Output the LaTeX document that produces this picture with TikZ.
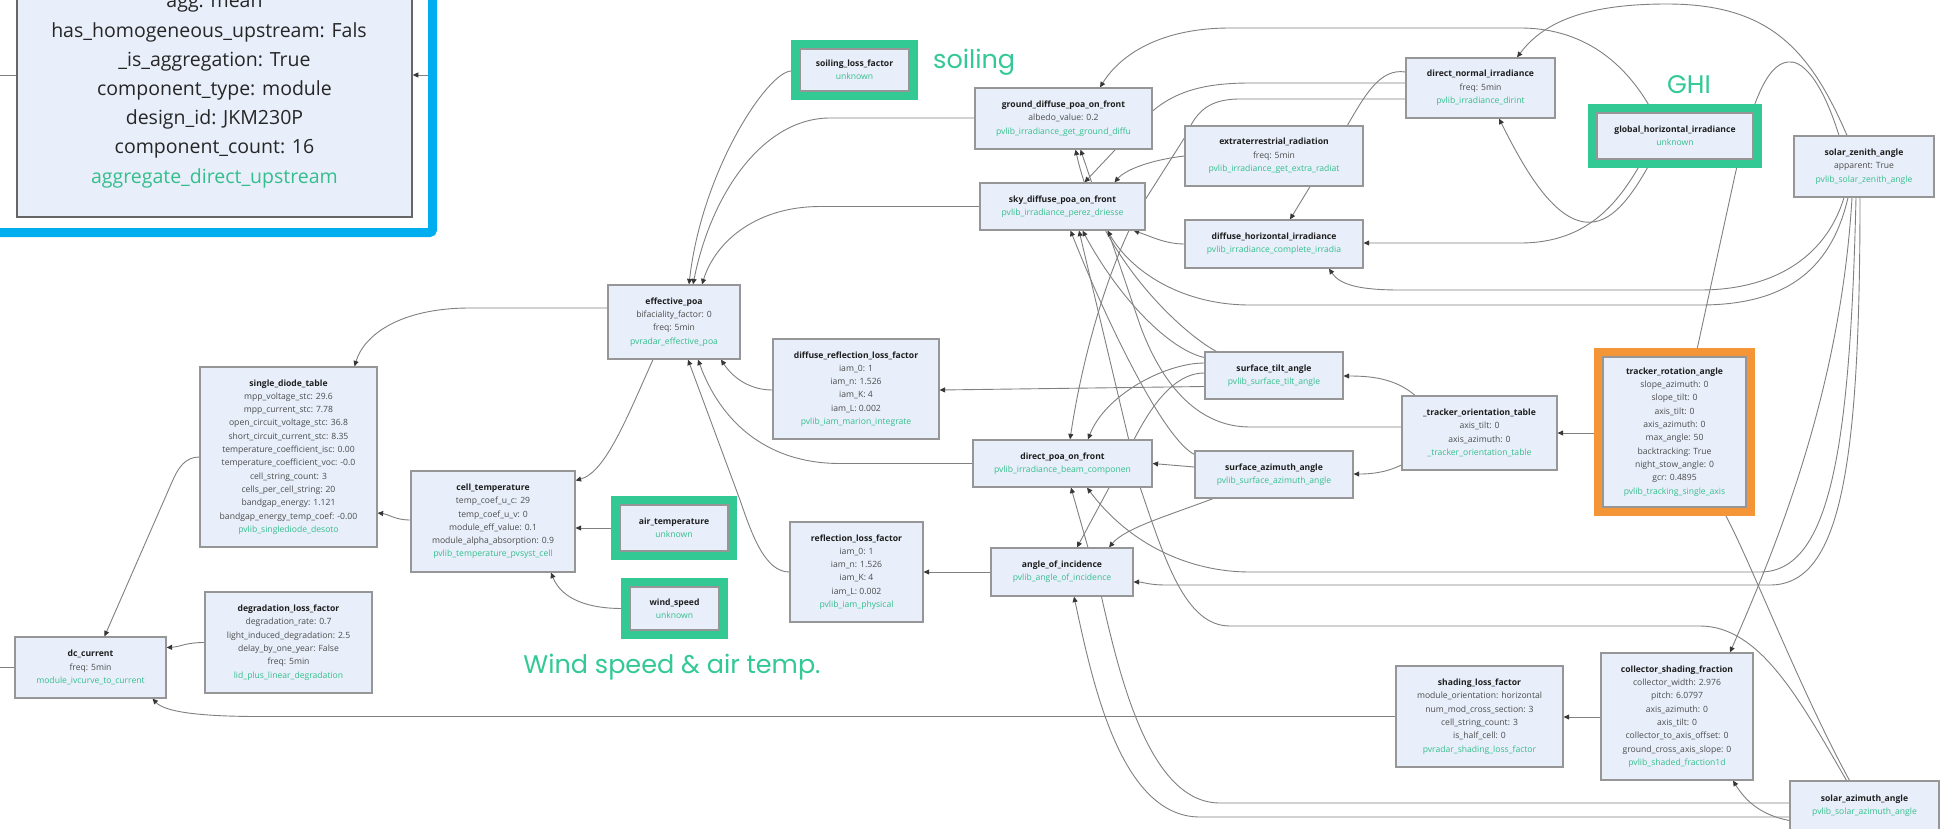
\documentclass[tikz,border=0pt]{standalone}
\usepackage{fontspec}
\setmainfont{Open Sans}
\newfontfamily\labelfont{Poppins}
\usetikzlibrary{arrows.meta,calc}

\definecolor{boxfill}{RGB}{232,239,250}
\definecolor{boxline}{RGB}{150,150,150}
\definecolor{edgecol}{RGB}{128,128,128}
\definecolor{tipcol}{RGB}{55,55,55}
\definecolor{hlgreen}{RGB}{51,201,149}
\definecolor{hlorange}{RGB}{244,150,56}
\definecolor{hlblue}{RGB}{0,174,239}
\definecolor{fncol}{RGB}{52,190,140}
\definecolor{titlecol}{RGB}{30,30,30}
\definecolor{paramcol}{RGB}{75,75,75}

\pgfdeclarelayer{edgelayer}
\pgfsetlayers{edgelayer,main}

\newcommand{\nodetitle}[1]{{\bfseries\color{titlecol}#1}}
\newcommand{\nodefn}[1]{{\color{fncol}#1}}

\tikzset{
  fbox/.style={draw=boxline, fill=boxfill, line width=1.2pt, inner sep=0pt,
    align=center, text=paramcol, font=\fontsize{8.6}{13.3}\selectfont},
  edge/.style={draw=edgecol, line width=0.9pt},
  arr/.style={-{Triangle[length=5.5pt,width=5pt,color=tipcol]}},
  gframe/.style={draw=hlgreen, line width=8pt},
  oframe/.style={draw=hlorange, line width=8pt},
  bframe/.style={draw=hlblue, line width=9pt, rounded corners=3pt},
  hllabel/.style={text=hlgreen, font=\labelfont\fontsize{25.5}{30}\selectfont, inner sep=0pt},
}

\begin{document}
\begin{tikzpicture}[x=1pt,y=-1pt]
\useasboundingbox (0,0) rectangle (1947,828);

% ---------- nodes ----------
\node[fbox, draw=black!60, line width=1.6pt, minimum width=395, minimum height=284] (agg) at (214.5,75) {};
\begin{scope}
  \clip (20,-20) rectangle (366,230);
  \node[text=black!85, font=\fontsize{19.5}{29.2}\selectfont, align=center, inner sep=0pt] (aggtxt) at (214.5,92.5)
    {agg: mean\\has\_homogeneous\_upstream: False\\\_is\_aggregation: True\\component\_type: module\\design\_id: JKM230P\\component\_count: 16\\\textcolor{fncol}{aggregate\_direct\_upstream}};
\end{scope}

\node[fbox, minimum width=109, minimum height=42] (soil) at (854.5,70)
  {\nodetitle{soiling\_loss\_factor}\\\nodefn{unknown}};
\node[fbox, minimum width=177, minimum height=61] (gd) at (1063.5,118.5)
  {\nodetitle{ground\_diffuse\_poa\_on\_front}\\albedo\_value: 0.2\\\nodefn{pvlib\_irradiance\_get\_ground\_diffu}};
\node[fbox, minimum width=165, minimum height=47] (sd) at (1062.5,206.5)
  {\nodetitle{sky\_diffuse\_poa\_on\_front}\\\nodefn{pvlib\_irradiance\_perez\_driesse}};
\node[fbox, minimum width=178, minimum height=60] (etr) at (1274,156)
  {\nodetitle{extraterrestrial\_radiation}\\freq: 5min\\\nodefn{pvlib\_irradiance\_get\_extra\_radiat}};
\node[fbox, minimum width=149, minimum height=60] (dni) at (1480.5,88)
  {\nodetitle{direct\_normal\_irradiance}\\freq: 5min\\\nodefn{pvlib\_irradiance\_dirint}};
\node[fbox, minimum width=156, minimum height=46] (ghi) at (1675,136)
  {\nodetitle{global\_horizontal\_irradiance}\\\nodefn{unknown}};
\node[fbox, minimum width=140, minimum height=61] (sz) at (1864,166.5)
  {\nodetitle{solar\_zenith\_angle}\\apparent: True\\\nodefn{pvlib\_solar\_zenith\_angle}};
\node[fbox, minimum width=178, minimum height=48] (dhi) at (1274,244)
  {\nodetitle{diffuse\_horizontal\_irradiance}\\\nodefn{pvlib\_irradiance\_complete\_irradia}};
\node[fbox, minimum width=132, minimum height=74] (eff) at (674,322)
  {\nodetitle{effective\_poa}\\bifaciality\_factor: 0\\freq: 5min\\\nodefn{pvradar\_effective\_poa}};
\node[fbox, minimum width=177, minimum height=180] (sdt) at (288.5,457)
  {\nodetitle{single\_diode\_table}\\mpp\_voltage\_stc: 29.6\\mpp\_current\_stc: 7.78\\open\_circuit\_voltage\_stc: 36.8\\short\_circuit\_current\_stc: 8.35\\temperature\_coefficient\_isc: 0.00\\temperature\_coefficient\_voc: -0.0\\cell\_string\_count: 3\\cells\_per\_cell\_string: 20\\bandgap\_energy: 1.121\\bandgap\_energy\_temp\_coef: -0.00\\\nodefn{pvlib\_singlediode\_desoto}};
\node[fbox, minimum width=164, minimum height=101] (cell) at (493,521.5)
  {\nodetitle{cell\_temperature}\\temp\_coef\_u\_c: 29\\temp\_coef\_u\_v: 0\\module\_eff\_value: 0.1\\module\_alpha\_absorption: 0.9\\\nodefn{pvlib\_temperature\_pvsyst\_cell}};
\node[fbox, minimum width=108, minimum height=46] (air) at (674,528)
  {\nodetitle{air\_temperature}\\\nodefn{unknown}};
\node[fbox, minimum width=89, minimum height=43] (wind) at (674.5,608.5)
  {\nodetitle{wind\_speed}\\\nodefn{unknown}};
\node[fbox, minimum width=166, minimum height=100] (drl) at (856,389)
  {\nodetitle{diffuse\_reflection\_loss\_factor}\\iam\_0: 1\\iam\_n: 1.526\\iam\_K: 4\\iam\_L: 0.002\\\nodefn{pvlib\_iam\_marion\_integrate}};
\node[fbox, minimum width=133, minimum height=100] (rl) at (856.5,572)
  {\nodetitle{reflection\_loss\_factor}\\iam\_0: 1\\iam\_n: 1.526\\iam\_K: 4\\iam\_L: 0.002\\\nodefn{pvlib\_iam\_physical}};
\node[fbox, minimum width=179, minimum height=47] (dpoa) at (1062.5,463.5)
  {\nodetitle{direct\_poa\_on\_front}\\\nodefn{pvlib\_irradiance\_beam\_componen}};
\node[fbox, minimum width=138, minimum height=47] (st) at (1274,375.5)
  {\nodetitle{surface\_tilt\_angle}\\\nodefn{pvlib\_surface\_tilt\_angle}};
\node[fbox, minimum width=158, minimum height=47] (sa) at (1274,474.5)
  {\nodetitle{surface\_azimuth\_angle}\\\nodefn{pvlib\_surface\_azimuth\_angle}};
\node[fbox, minimum width=142, minimum height=48] (aoi) at (1062,572)
  {\nodetitle{angle\_of\_incidence}\\\nodefn{pvlib\_angle\_of\_incidence}};
\node[fbox, minimum width=155, minimum height=74] (tot) at (1479.5,433)
  {\nodetitle{\_tracker\_orientation\_table}\\axis\_tilt: 0\\axis\_azimuth: 0\\\nodefn{\_tracker\_orientation\_table}};
\node[fbox, minimum width=143, minimum height=150] (tra) at (1674.5,432)
  {\nodetitle{tracker\_rotation\_angle}\\slope\_azimuth: 0\\slope\_tilt: 0\\axis\_tilt: 0\\axis\_azimuth: 0\\max\_angle: 50\\backtracking: True\\night\_stow\_angle: 0\\gcr: 0.4895\\\nodefn{pvlib\_tracking\_single\_axis}};
\node[fbox, minimum width=151, minimum height=61] (dc) at (90.5,667.5)
  {\nodetitle{dc\_current}\\freq: 5min\\\nodefn{module\_ivcurve\_to\_current}};
\node[fbox, minimum width=167, minimum height=101] (deg) at (288.5,642.5)
  {\nodetitle{degradation\_loss\_factor}\\degradation\_rate: 0.7\\light\_induced\_degradation: 2.5\\delay\_by\_one\_year: False\\freq: 5min\\\nodefn{lid\_plus\_linear\_degradation}};
\node[fbox, minimum width=167, minimum height=101] (shd) at (1479.5,716.5)
  {\nodetitle{shading\_loss\_factor}\\module\_orientation: horizontal\\num\_mod\_cross\_section: 3\\cell\_string\_count: 3\\is\_half\_cell: 0\\\nodefn{pvradar\_shading\_loss\_factor}};
\node[fbox, minimum width=152, minimum height=127] (csf) at (1677,716.5)
  {\nodetitle{collector\_shading\_fraction}\\collector\_width: 2.976\\pitch: 6.0797\\axis\_azimuth: 0\\axis\_tilt: 0\\collector\_to\_axis\_offset: 0\\ground\_cross\_axis\_slope: 0\\\nodefn{pvlib\_shaded\_fraction1d}};
\node[fbox, minimum width=149, minimum height=49] (sazi) at (1864.5,805.5)
  {\nodetitle{solar\_azimuth\_angle}\\\nodefn{pvlib\_solar\_azimuth\_angle}};

% highlight frames
\draw[bframe] (-20,-20) rectangle (432.5,232.5);
\draw[gframe] ($(soil.north west)+(-4,-4)$) rectangle ($(soil.south east)+(4,4)$);
\draw[gframe] ($(ghi.north west)+(-4,-4)$) rectangle ($(ghi.south east)+(4,4)$);
\draw[gframe] ($(air.north west)+(-4,-4)$) rectangle ($(air.south east)+(4,4)$);
\draw[gframe] ($(wind.north west)+(-4,-4)$) rectangle ($(wind.south east)+(4,4)$);
\draw[oframe] ($(tra.north west)+(-4,-4)$) rectangle ($(tra.south east)+(4,4)$);

% annotations
\node[hllabel, anchor=west] (lblsoil) at (933,62) {soiling};
\node[hllabel] (lblghi) at (1689,85) {GHI};
\node[hllabel] (lblwind) at (672,667) {Wind speed \& air temp.};

\coordinate (aggin) at (436,75);
\coordinate (aggout) at (0,75);
\coordinate (dcout) at (0,667.5);

% ---------- connectors ----------
\begin{pgfonlayer}{edgelayer}
\fill[white] (0,0) rectangle (1947,828);
\draw[edge,arr] (aggin) -- (agg.east);
\draw[edge] (agg.west) -- (aggout);

% into effective_poa
\draw[edge,arr] ($(soil.west)+(-8,1)$) .. controls (768,71) and (702,170) .. ($(eff.north)+(15,0)$);
\draw[edge,arr] ($(gd.west)+(0,-0.5)$) -- (830,118) .. controls (765,118) and (712,190) .. ($(eff.north)+(19,0)$);
\draw[edge,arr] (sd.west) -- (820,206.5) .. controls (758,206.5) and (716,240) .. ($(eff.north)+(28,0)$);
\draw[edge,arr] ($(drl.west)+(0,1)$) .. controls (750,390) and (733,378) .. ($(eff.south)+(47,0)$);
\draw[edge,arr] (rl.west) .. controls (765,572) and (752,535) .. (740,500) -- ($(eff.south)+(14,0)$);
\draw[edge,arr] (dpoa.west) -- (840,463.5) .. controls (765,463.5) and (720,420) .. ($(eff.south)+(24,0)$);

% module chain
\draw[edge,arr] ($(eff.west)+(0,-14)$) -- (470,308) .. controls (400,308) and (364,335) .. ($(sdt.north)+(66,0)$);
\draw[edge,arr] ($(eff.south)+(-21,0)$) .. controls (628,415) and (606,472) .. ($(cell.east)+(0,-41)$);
\draw[edge,arr] ($(air.west)+(-8,0)$) -- ($(cell.east)+(0,6.5)$);
\draw[edge,arr] ($(wind.west)+(-8,0)$) .. controls (590,608.5) and (562,600) .. ($(cell.south)+(58,0)$);
\draw[edge,arr] ($(cell.west)+(0,-1.5)$) .. controls (395,520) and (388,514) .. ($(sdt.east)+(0,56)$);
\draw[edge,arr] (sdt.west) .. controls (185,457) and (178,468) .. (172,482) -- ($(dc.north)+(14,0)$);
\draw[edge,arr] (deg.west) .. controls (185,642.5) and (180,647) .. ($(dc.east)+(0,-20)$);
\draw[edge,arr] (shd.west) -- (260,716.5) .. controls (200,716.5) and (165,712) .. ($(dc.south)+(62,0)$);
\draw[edge] (dc.west) -- (dcout);

% loss factors and geometry
\draw[edge,arr] ($(st.west)+(0,11)$) -- ($(drl.east)+(0,1)$);
\draw[edge,arr] (aoi.west) -- (rl.east);
\draw[edge,arr] ($(st.west)+(0,-12.5)$) .. controls (1165,363) and (1105,395) .. ($(dpoa.north)+(25.5,0)$);
\draw[edge,arr] ($(st.west)+(0,-2.5)$) .. controls (1170,373) and (1145,415) .. (1125,458) -- ($(aoi.north)+(15,0)$);
\draw[edge,arr] ($(sa.west)+(0,-7.5)$) -- (dpoa.east);
\draw[edge,arr] ($(sa.south)+(-61,0)$) .. controls (1170,515) and (1125,528) .. ($(aoi.north)+(47,0)$);
\draw[edge,arr] ($(tot.north)+(-64.5,0)$) .. controls (1395,378) and (1370,376) .. ($(st.east)+(0,0.5)$);
\draw[edge,arr] ($(tot.west)+(0,32)$) .. controls (1385,473) and (1370,474) .. ($(sa.east)+(0,-0.5)$);
\draw[edge,arr] ($(tra.west)+(-8,1)$) -- (tot.east);
\draw[edge,arr] ($(st.north west)+(12,0)$) .. controls (1185,335) and (1100,260) .. ($(gd.south)+(12,0)$);
\draw[edge,arr] ($(tot.west)+(0,-6)$) -- (1250,427) .. controls (1195,427) and (1160,380) .. (1140,325) -- ($(gd.south)+(17,0)$);
\draw[edge,arr] ($(st.west)+(0,-18)$) .. controls (1170,350) and (1120,300) .. ($(sd.south)+(20,0)$);
\draw[edge,arr] ($(sa.north west)+(0,4)$) .. controls (1165,440) and (1110,330) .. ($(sd.south)+(8,0)$);

% irradiance components
\draw[edge,arr] ($(dni.west)+(0,-5)$) -- (1250,83) .. controls (1200,83) and (1170,93) .. (1145,118) -- ($(sd.north)+(22,0)$);
\draw[edge,arr] ($(dni.west)+(0,11)$) -- (1240,99) .. controls (1205,99) and (1195,115) .. (1185,137) -- (1145,200) .. controls (1115,250) and (1085,340) .. ($(dpoa.north)+(7.5,0)$);
\draw[edge,arr] ($(dni.west)+(0,-16)$) .. controls (1380,68) and (1365,95) .. (1347,126) -- ($(dhi.north)+(16,0)$);
\draw[edge,arr] (etr.west) .. controls (1150,160) and (1125,170) .. ($(sd.north)+(52,0)$);
\draw[edge,arr] (dhi.west) .. controls (1165,244) and (1150,236) .. ($(sd.south east)+(-12,0)$);
\draw[edge,arr] ($(ghi.north)+(-22,0)$) .. controls (1630,70) and (1590,28) .. (1520,28) -- (1230,28) .. controls (1160,28) and (1120,55) .. ($(gd.north)+(36.5,0)$);
\draw[edge,arr] ($(ghi.south)+(-23,0)$) .. controls (1630,200) and (1610,225) .. (1585,222) .. controls (1550,218) and (1520,160) .. ($(dni.south)+(18.5,0)$);
\draw[edge,arr] ($(ghi.south)+(-32,0)$) .. controls (1620,200) and (1590,243) .. (1520,243) -- ($(dhi.east)+(0,-1)$);

% solar position
\draw[edge,arr] ($(sz.north)+(-17,0)$) .. controls (1810,50) and (1770,4) .. (1667,4) .. controls (1590,4) and (1545,20) .. ($(dni.north)+(36.5,0)$);
\draw[edge,arr] ($(sz.north)+(-25,0)$) .. controls (1820,75) and (1800,60) .. (1788,62) .. controls (1765,64) and (1750,110) .. (1735,175) -- ($(tra.north)+(21,0)$);
\draw[edge,arr] ($(sz.south)+(-20,0)$) .. controls (1825,260) and (1770,290) .. (1700,290) -- (1400,290) .. controls (1360,290) and (1340,285) .. ($(dhi.south)+(55,0)$);
\draw[edge,arr] ($(sz.south)+(-16,0)$) .. controls (1830,275) and (1780,305) .. (1700,305) -- (1250,305) .. controls (1180,305) and (1130,270) .. ($(sd.south)+(45,0)$);
\draw[edge,arr] ($(sz.south)+(-8,0)$) .. controls (1850,450) and (1830,572) .. (1760,572) -- (1250,572) .. controls (1190,572) and (1130,545) .. ($(dpoa.south)+(24.5,0)$);
\draw[edge,arr] ($(sz.south)+(-4,0)$) .. controls (1860,470) and (1840,585) .. (1770,585) -- (1165,585) .. controls (1150,585) and (1142,582) .. ($(aoi.east)+(0,10)$);
\draw[edge,arr] ($(sz.south)+(-12,0)$) .. controls (1840,400) and (1770,560) .. ($(csf.north)+(53,0)$);
\draw[edge,arr] ($(sazi.north)+(-15,0)$) .. controls (1800,690) and (1750,560) .. ($(tra.south)+(47,0)$);
\draw[edge,arr] ($(sazi.north)+(-18,0)$) .. controls (1800,700) and (1760,626) .. (1700,626) -- (1230,626) .. controls (1185,626) and (1165,560) .. (1140,487) -- ($(sd.south)+(16.5,0)$);
\draw[edge,arr] ($(sazi.west)+(0,-2.5)$) -- (1220,803) .. controls (1150,803) and (1120,680) .. (1100,590) -- ($(dpoa.south)+(8.5,0)$);
\draw[edge,arr] ($(sazi.west)+(0,11.5)$) -- (1200,817) .. controls (1120,817) and (1092,680) .. ($(aoi.south)+(12,0)$);
\draw[edge,arr] ($(sazi.west)+(0,15)$) .. controls (1760,815) and (1745,800) .. ($(csf.south)+(56,0)$);
\draw[edge,arr] ($(csf.west)+(0,0.5)$) -- ($(shd.east)+(0,0.5)$);
\end{pgfonlayer}
\end{tikzpicture}
\end{document}
